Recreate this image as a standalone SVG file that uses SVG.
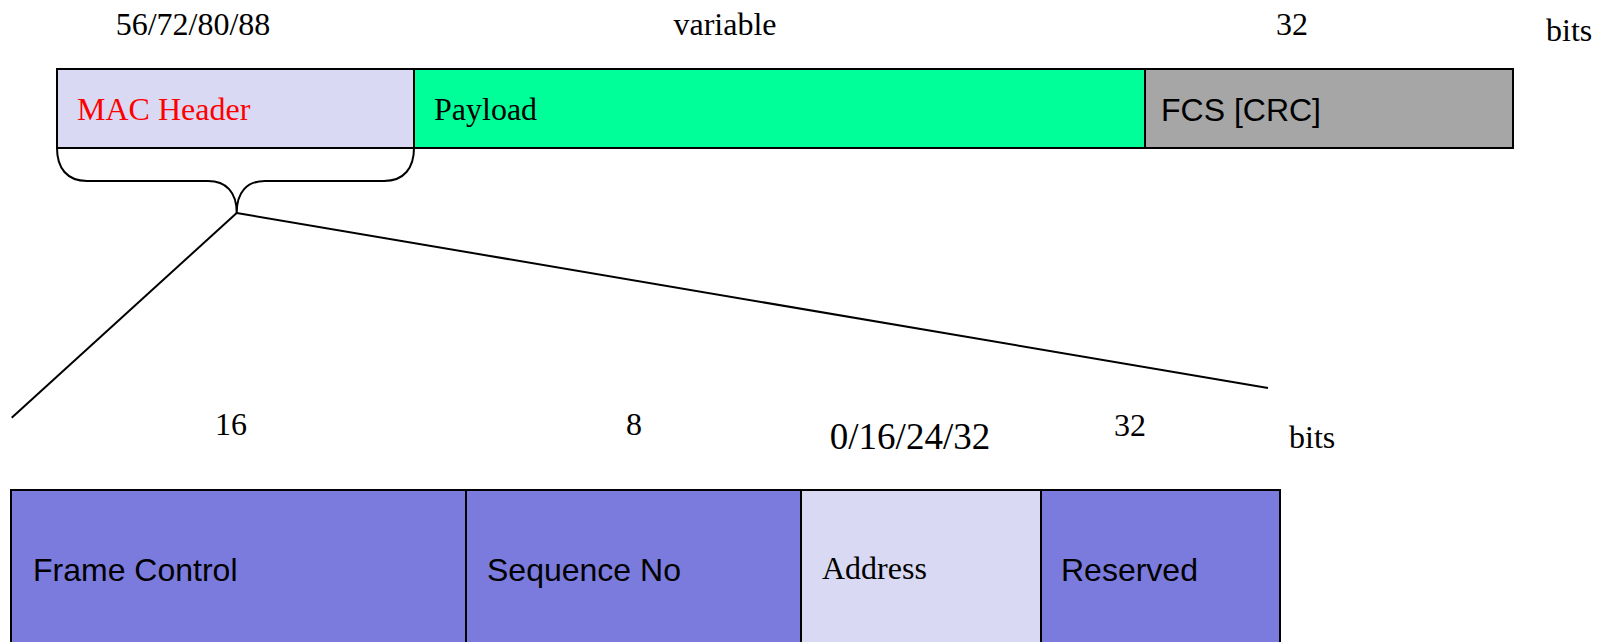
<svg xmlns="http://www.w3.org/2000/svg" width="1604" height="642" viewBox="0 0 1604 642">
<style>
.box{stroke:#000;stroke-width:2}
.serif{font-family:"Liberation Serif","Times New Roman",serif;font-size:32px;fill:#000}
.sans{font-family:"Liberation Sans",Arial,sans-serif;font-size:32px;fill:#000}
.mid{text-anchor:middle}
.conn{fill:none;stroke:#000;stroke-width:2}
</style>
<rect width="1604" height="642" fill="#fff"/>
<g id="labels-top">
<text class="serif mid" x="193" y="35">56/72/80/88</text>
<text class="serif mid" x="725" y="35">variable</text>
<text class="serif mid" x="1292" y="35">32</text>
<text class="serif" x="1546" y="41">bits</text>
</g>
<g id="mac-header">
<rect class="box" x="57" y="69" width="357" height="79" fill="#D9D9F3"/>
<text class="serif" x="77" y="120" style="fill:#FF0000">MAC Header</text>
</g>
<g id="payload">
<rect class="box" x="414" y="69" width="731" height="79" fill="#00FF99"/>
<text class="serif" x="434" y="120">Payload</text>
</g>
<g id="fcs">
<rect class="box" x="1145" y="69" width="368" height="79" fill="#A6A6A6"/>
<text class="sans" x="1161" y="121">FCS [CRC]</text>
</g>
<g id="connectors">
<path class="conn" d="M57,148 C57,168 67,181 87,181 L208,181 C226,181 236.7,192 236.7,213 C236.7,192 247,181 265,181 L384,181 C404,181 414,168 414,148"/>
<line class="conn" x1="236.7" y1="213" x2="11.7" y2="417.7"/>
<line class="conn" x1="236.7" y1="213" x2="1268" y2="388"/>
</g>
<g id="labels-bottom">
<text class="serif mid" x="231" y="435">16</text>
<text class="serif mid" x="634" y="435">8</text>
<text class="serif mid" x="910" y="449" style="font-size:37px">0/16/24/32</text>
<text class="serif mid" x="1130" y="436">32</text>
<text class="serif" x="1289" y="448">bits</text>
</g>
<g id="frame-control">
<rect class="box" x="11" y="490" width="455" height="170" fill="#7B7BDE"/>
<text class="sans" x="33" y="581">Frame Control</text>
</g>
<g id="sequence-no">
<rect class="box" x="466" y="490" width="335" height="170" fill="#7B7BDE"/>
<text class="sans" x="487" y="581">Sequence No</text>
</g>
<g id="address">
<rect class="box" x="801" y="490" width="240" height="170" fill="#D9D9F3"/>
<text class="serif" x="822" y="579">Address</text>
</g>
<g id="reserved">
<rect class="box" x="1041" y="490" width="239" height="170" fill="#7B7BDE"/>
<text class="sans" x="1061" y="581">Reserved</text>
</g>
</svg>
